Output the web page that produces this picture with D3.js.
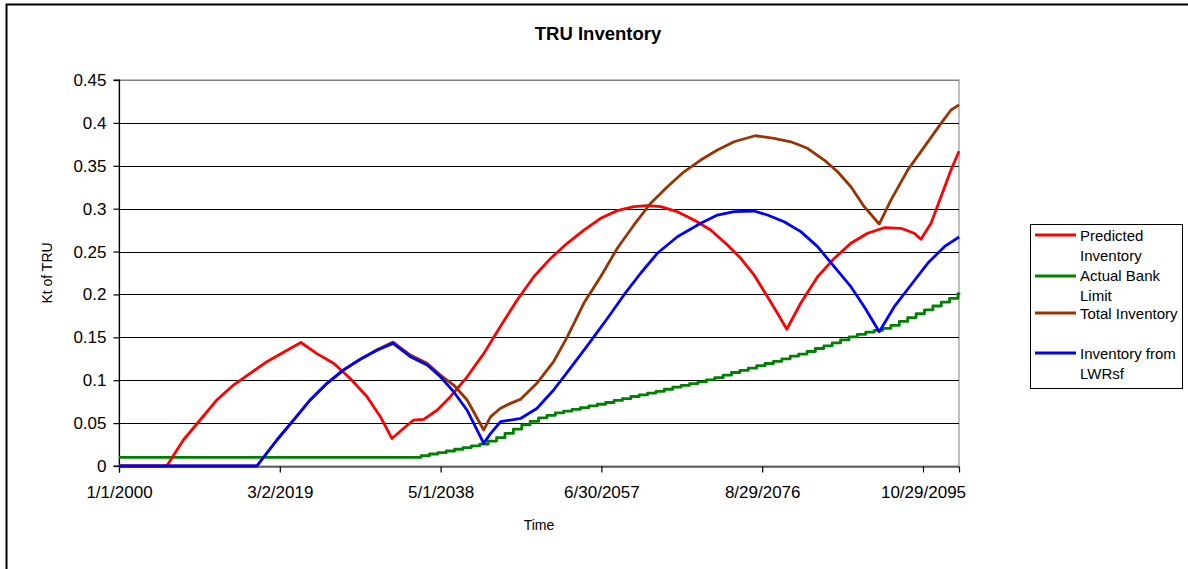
<!DOCTYPE html>
<html><head><meta charset="utf-8">
<script src="https://cdn.jsdelivr.net/npm/d3@7"></script>
<style>
html,body{margin:0;padding:0;background:#fff;}
svg{display:block;font-family:"Liberation Sans",Arial,Helvetica,sans-serif;}
</style></head>
<body><svg id="c" width="1188" height="569"></svg>
<script>
// ---- data (decimal years, kt of TRU) ----
const title = "TRU Inventory";
const xTitle = "Time";
const yTitle = "Kt of TRU";
const yTicks = [0,0.05,0.1,0.15,0.2,0.25,0.3,0.35,0.4,0.45];
const xTickDates = ["2000-01-01","2019-03-02","2038-05-01","2057-06-30","2076-08-29","2095-10-29"];
const xDomainEnd = "2100-02-12";

const seriesNames = ["Predicted Inventory","Actual Bank Limit","Total Inventory","Inventory from LWRsf"];
const seriesColors = ["#FF0000","#008000","#993300","#0000FF"];

const predictedYears = [2000,2005.69,2007.67,2009.67,2011.66,2013.64,2015.63,2017.63,2019.61,2021.68,
 2023.59,2025.57,2027.57,2029.56,2031.15,2032.54,2033.93,2035.12,2036.31,2037.91,
 2039.5,2041.49,2043.47,2045.47,2047.46,2049.44,2051.43,2053.42,2055.41,2057.40,
 2059.39,2061.37,2062.97,2064.56,2066.55,2068.53,2070.52,2072.52,2074.1,2075.69,
 2077.29,2078.48,2079.59,2081.26,2083.26,2085.24,2087.23,2089.22,2091.21,2093.2,
 2094.78,2095.58,2096.78,2097.97,2099.16,2100.12];
const predictedValues = [0,0,0.0303,0.0536,0.077,0.0944,0.108,0.1216,0.1325,0.144,
 0.131,0.1197,0.102,0.0808,0.0575,0.032,0.044,0.0536,0.0544,0.065,
 0.0808,0.104,0.131,0.163,0.1935,0.2207,0.242,0.2596,0.275,0.2888,
 0.2977,0.3023,0.3035,0.3023,0.2965,0.2868,0.2751,0.2577,0.2421,0.2227,
 0.1974,0.178,0.1594,0.19,0.2207,0.242,0.2596,0.2713,0.2778,0.2771,
 0.2713,0.2643,0.283,0.314,0.345,0.367];

const bankYears = [2000].concat(d3.range(2035,2101)).concat([2100.12]);
const bankValues = [0.01,
 0.010,0.012,0.014,0.0155,0.0175,0.0195,0.0215,0.0235,0.0255,0.029,
 0.033,0.038,0.043,0.048,0.052,0.056,0.059,0.062,0.064,0.066,
 0.068,0.070,0.072,0.074,0.0765,0.0785,0.081,0.083,0.085,0.087,
 0.0895,0.092,0.094,0.096,0.098,0.1005,0.103,0.106,0.109,0.1115,
 0.114,0.117,0.1195,0.122,0.125,0.128,0.1305,0.1335,0.137,0.140,
 0.1435,0.147,0.1505,0.1535,0.156,0.158,0.1605,0.164,0.1685,0.173,
 0.1775,0.182,0.1865,0.191,0.1955,0.201,
 0.202];

const totalYears = [2000,2016.43,2018.82,2020.8,2022.79,2024.79,2026.77,2028.76,2030.75,2032.66,
 2034.73,2036.72,2038.31,2039.89,2041.49,2043.47,2044.3,2045.47,2046.66,2047.9,
 2049.8,2051.8,2053.4,2055.41,2057.4,2059.39,2061.37,2063.37,2065.36,2067.34,
 2069.33,2071.32,2073.31,2075.81,2078.08,2080.07,2082.06,2084.05,2085.65,2087.23,
 2088.82,2090.61,2092.0,2094.0,2095.98,2097.97,2099.16,2100.12];
const totalValues = [0,0,0.0303,0.0536,0.077,0.0964,0.112,0.1244,0.1355,0.1445,
 0.1294,0.1197,0.106,0.0944,0.077,0.042,0.0575,0.0673,0.073,0.078,
 0.0964,0.1216,0.150,0.19,0.2207,0.2538,0.281,0.3063,0.3256,0.343,
 0.3567,0.3684,0.378,0.385,0.382,0.378,0.3704,0.3567,0.343,0.3256,
 0.3023,0.2821,0.31,0.345,0.372,0.3995,0.415,0.421];

const lwrYears = [2000,2016.43,2018.82,2020.8,2022.79,2024.79,2026.77,2028.76,2030.75,2032.66,
 2034.73,2036.72,2038.31,2039.89,2041.49,2043.47,2044.3,2045.47,2046.66,2047.9,
 2049.8,2051.8,2053.8,2055.8,2058.2,2060.18,2062.17,2064.16,2066.55,2069.33,
 2071.32,2073.31,2075.69,2077.29,2079.27,2081.26,2083.26,2085.24,2087.23,2088.82,
 2090.61,2092.4,2094.39,2096.38,2098.37,2100.12];
const lwrValues = [0,0,0.0303,0.0536,0.077,0.0964,0.112,0.1244,0.135,0.143,
 0.1274,0.1177,0.104,0.0866,0.065,0.0265,0.038,0.0516,0.0536,0.0556,
 0.067,0.0886,0.114,0.14,0.172,0.1994,0.2247,0.248,0.2673,0.283,
 0.2926,0.2965,0.2973,0.2926,0.2848,0.2732,0.2557,0.2324,0.209,0.1857,
 0.1566,0.1857,0.211,0.2363,0.2557,0.267];

// ---- helpers ----
const base = Date.UTC(2000,0,1);
const toDate = y => new Date(base + (y-2000)*365.25*864e5);
const parse = d3.utcParse("%Y-%m-%d");

const svg = d3.select("#c");
const L=119, R=959, T=80, B=466;

const x = d3.scaleUtc().domain([parse(xTickDates[0]), parse(xDomainEnd)]).range([L,R]);
const y = d3.scaleLinear().domain([0,0.45]).range([B,T]);

// outer frame
svg.append("rect").attr("x",6.5).attr("y",4.5).attr("width",1300).attr("height",700)
  .attr("fill","none").attr("stroke","#000").attr("stroke-width",2);

// plot area border (gray)
svg.append("rect").attr("x",L).attr("y",T).attr("width",R-L).attr("height",B-T)
  .attr("fill","#fff").attr("stroke","#808080").attr("stroke-width",1);

// gridlines
svg.append("g").selectAll("line").data(yTicks.slice(1)).join("line")
  .attr("x1",L).attr("x2",R).attr("y1",d=>Math.round(y(d))+0.5).attr("y2",d=>Math.round(y(d))+0.5)
  .attr("stroke",d=> d===0.45 ? "#808080" : "#000").attr("stroke-width",1);

// axes
const yAxis = d3.axisLeft(y).tickValues(yTicks).tickSize(6).tickPadding(7)
  .tickFormat(d=> d===0 ? "0" : String(+d.toFixed(2)));
const gy = svg.append("g").attr("transform",`translate(${L+0.5},0)`).call(yAxis);
const xAxis = d3.axisBottom(x).tickValues(xTickDates.map(parse)).tickSize(6).tickPadding(13)
  .tickFormat(d3.utcFormat("%-m/%-d/%Y"));
const gx = svg.append("g").attr("transform",`translate(0,${B+0.5})`).call(xAxis);
[gx,gy].forEach(g=>{
  g.select(".domain").attr("stroke","#000").attr("stroke-width",1.2);
  g.selectAll(".tick line").attr("stroke","#000").attr("stroke-width",1.2);
  g.selectAll("text").attr("font-size",17).attr("fill","#000")
    .attr("font-family",'"Liberation Sans",Arial,sans-serif');
});
gy.select(".domain").attr("d",`M-6,${B}H0V${T}H-6`);

// series
const line = d3.line().x(d=>x(d[0])).y(d=>y(d[1]));
const series = [
  {years:predictedYears, values:predictedValues, color:seriesColors[0], curve:d3.curveLinear},
  {years:bankYears, values:bankValues, color:seriesColors[1], curve:d3.curveStepAfter},
  {years:totalYears, values:totalValues, color:seriesColors[2], curve:d3.curveLinear},
  {years:lwrYears, values:lwrValues, color:seriesColors[3], curve:d3.curveLinear}
];
const order = [1,0,2,3];
order.forEach(i=>{
  const s = series[i];
  const pts = s.years.map((yr,k)=>[toDate(yr), s.values[k]]);
  svg.append("path").datum(pts).attr("fill","none").attr("stroke",s.color)
    .attr("stroke-width",2.8).attr("stroke-linejoin","round")
    .attr("d", line.curve(s.curve)(pts));
});

// titles
svg.append("text").attr("x",598).attr("y",40).attr("text-anchor","middle")
  .attr("font-size",18.5).attr("font-weight","bold").text(title);
svg.append("text").attr("x",(L+R)/2).attr("y",530).attr("text-anchor","middle")
  .attr("font-size",14).text(xTitle);
svg.append("text").attr("transform",`translate(52,${(T+B)/2}) rotate(-90)`).attr("text-anchor","middle")
  .attr("font-size",14).text(yTitle);

// legend
const lg = svg.append("g");
lg.append("rect").attr("x",1030.5).attr("y",224.5).attr("width",152).attr("height",164)
  .attr("fill","#fff").attr("stroke","#000").attr("stroke-width",1);
const legendRows = [
  {lines:["Predicted","Inventory"], sy:235, ty:241},
  {lines:["Actual Bank","Limit"], sy:276, ty:281},
  {lines:["Total Inventory"], sy:313, ty:318.5},
  {lines:["Inventory from","LWRsf"], sy:353, ty:358.5}
];
legendRows.forEach((r,i)=>{
  lg.append("line").attr("x1",1035).attr("x2",1076).attr("y1",r.sy).attr("y2",r.sy)
    .attr("stroke",seriesColors[i]).attr("stroke-width",3);
  const t = lg.append("text").attr("x",1080).attr("y",r.ty).attr("font-size",15);
  r.lines.forEach((ln,k)=> t.append("tspan").attr("x",1080).attr("dy",k===0?0:20).text(ln));
});
</script></body></html>
